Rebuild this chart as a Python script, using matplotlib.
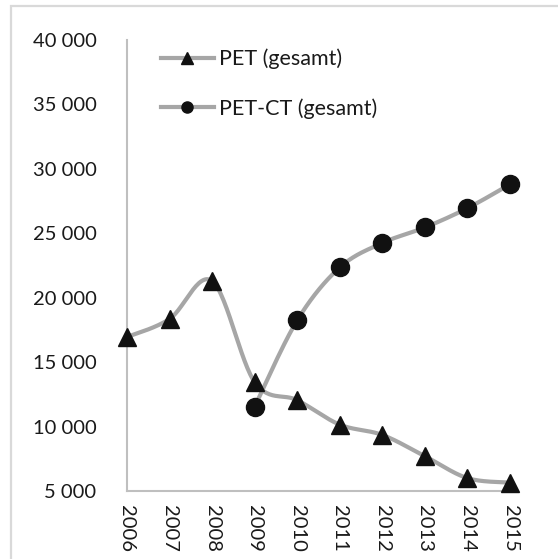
import numpy as np
import matplotlib
matplotlib.use("Agg")
import matplotlib.pyplot as plt
from matplotlib.lines import Line2D
from matplotlib.patches import Rectangle

years = [2006, 2007, 2008, 2009, 2010, 2011, 2012, 2013, 2014, 2015]
pet = [16950, 18350, 21300, 13450, 12050, 10150, 9350, 7700, 6000, 5650]
petct_years = [2009, 2010, 2011, 2012, 2013, 2014, 2015]
petct = [11550, 18250, 22350, 24250, 25450, 26950, 28800]
yticks = [5000, 10000, 15000, 20000, 25000, 30000, 35000, 40000]
labels = ["PET (gesamt)", "PET-CT (gesamt)"]

plt.rcParams['font.family'] = ['Lato', 'DejaVu Sans']

W, H = 558, 559
fig = plt.figure(figsize=(W / 100, H / 100), dpi=100)
ax = fig.add_axes([127 / W, 1 - 491 / H, (510 - 127) / W, (491 - 40) / H])


def smooth(xs, ys, n=30):
    xs = np.asarray(xs, float)
    ys = np.asarray(ys, float)
    P = np.column_stack([xs, ys])
    out = []
    for i in range(len(P) - 1):
        p0 = P[i - 1] if i > 0 else P[i]
        p1 = P[i]
        p2 = P[i + 1]
        p3 = P[i + 2] if i + 2 < len(P) else P[i + 1]
        c1 = p1 + (p2 - p0) / 6
        c2 = p2 - (p3 - p1) / 6
        t = np.linspace(0, 1, n)[:, None]
        seg = (1 - t) ** 3 * p1 + 3 * (1 - t) ** 2 * t * c1 + 3 * (1 - t) * t ** 2 * c2 + t ** 3 * p2
        out.append(seg if i == 0 else seg[1:])
    s = np.vstack(out)
    return s[:, 0], s[:, 1]


line_color = '#a6a6a6'
mk = '#111111'
sx, sy = smooth(years, pet)
ax.plot(sx, sy, color=line_color, lw=3.0, solid_capstyle='butt', zorder=2, clip_on=False)
sx2, sy2 = smooth(petct_years, petct)
ax.plot(sx2, sy2, color=line_color, lw=3.0, solid_capstyle='butt', zorder=2, clip_on=False)
ax.plot(years, pet, linestyle='none', marker='^', ms=12.5, color=mk, zorder=3, clip_on=False)
ax.plot(petct_years, petct, linestyle='none', marker='o', ms=13, color=mk, zorder=3, clip_on=False)

ax.set_xlim(2006, 2015)
ax.set_ylim(5000, 40000)
ax.set_yticks(yticks)
ax.set_yticklabels([f"{v:,}".replace(",", " ") for v in yticks])
ax.set_xticks(years)
ax.set_xticklabels([str(y) for y in years], rotation=-90, va='top', ha='center')
ax.tick_params(axis='both', length=0, labelsize=14.5, colors='#1a1a1a')
ax.tick_params(axis='y', pad=22)
ax.tick_params(axis='x', pad=10)
for s in ['top', 'right']:
    ax.spines[s].set_visible(False)
for s in ['left', 'bottom']:
    ax.spines[s].set_color('#bfbfbf')
    ax.spines[s].set_linewidth(1.5)

handles = [
    Line2D([], [], color=line_color, lw=3.0, marker='^', ms=8, mfc=mk, mec=mk),
    Line2D([], [], color=line_color, lw=3.0, marker='o', ms=8, mfc=mk, mec=mk),
]
leg = ax.legend(handles, labels, loc='upper left', bbox_to_anchor=(0.065, 1.0),
                frameon=False, fontsize=15.5, handlelength=2.5, handletextpad=0.2,
                labelspacing=1.35, borderaxespad=0.0)
for t in leg.get_texts():
    t.set_color('#1a1a1a')

fig.patches.append(Rectangle((11 / W, -0.1), 2, 1 - 6 / H + 0.1, transform=fig.transFigure,
                             fill=False, edgecolor='#d9d9d9', lw=1.6))

fig.savefig('out.png', dpi=100)
